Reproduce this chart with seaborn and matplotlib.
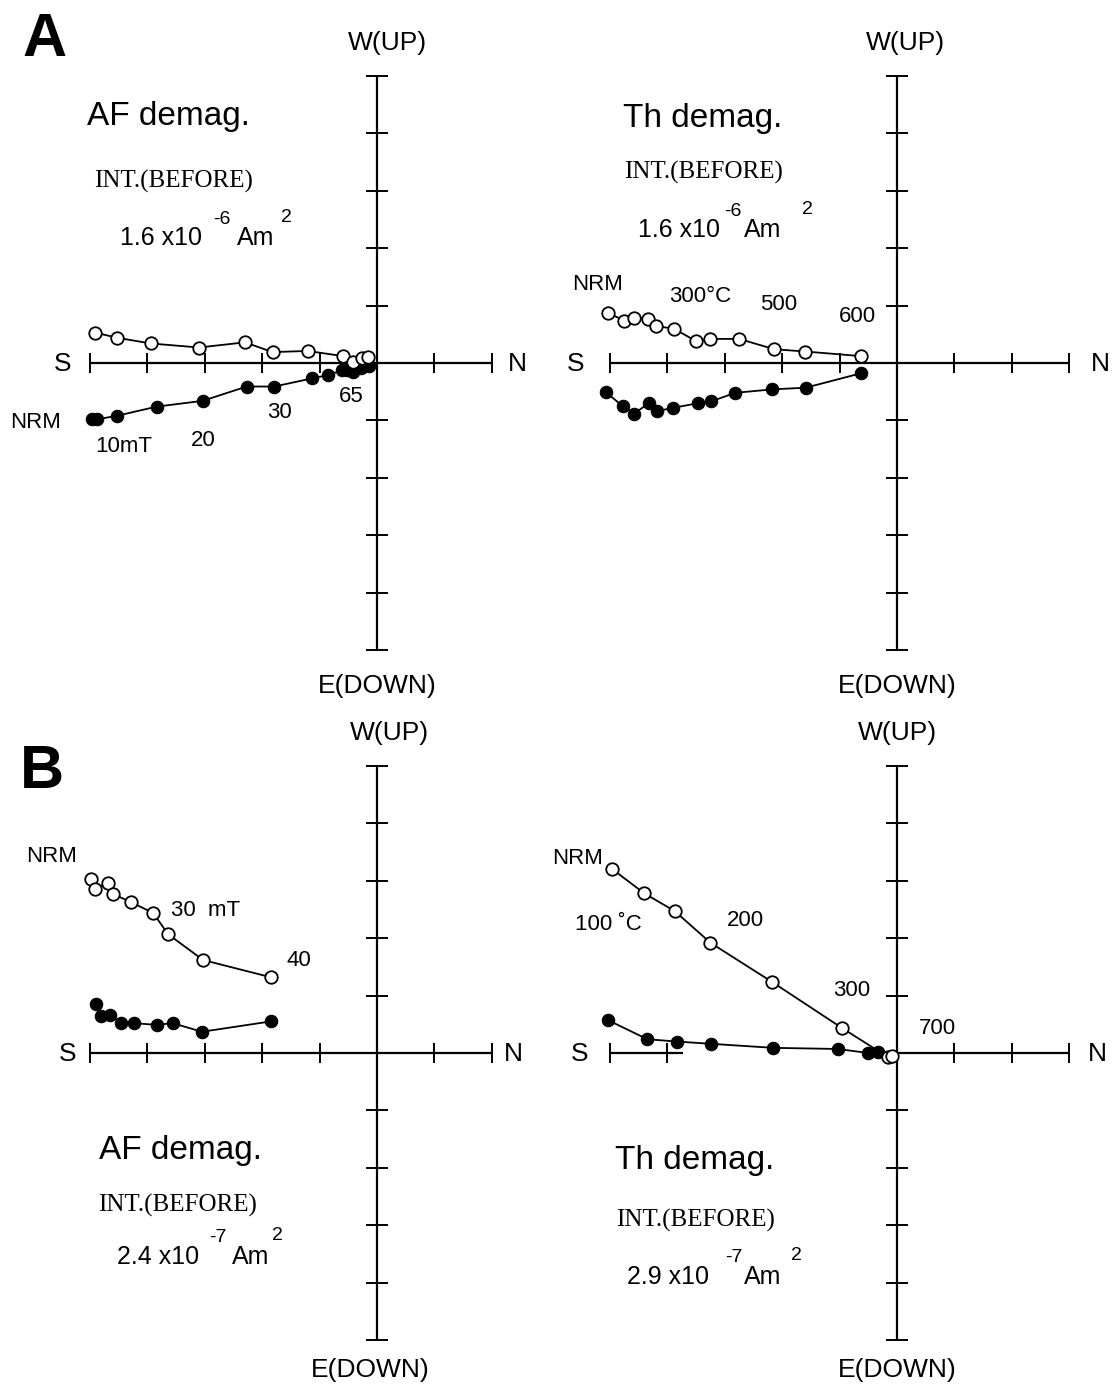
import numpy as np
import matplotlib
matplotlib.use('Agg')
import matplotlib.pyplot as plt
import seaborn as sns

sns.set_style('white')
plt.rcParams['font.family'] = ['Liberation Sans', 'DejaVu Sans']
plt.rcParams['text.color'] = 'black'

W, H = 1114, 1387
S = 57.4  # pixels per tick

# data in tick units (origin at cross centre)
a_af_vert_x = [-4.91, -4.53, -3.94, -3.10, -2.30, -1.82, -1.21, -0.59, -0.41, -0.27, -0.16]
a_af_vert_y = [0.53, 0.44, 0.34, 0.27, 0.36, 0.19, 0.21, 0.12, 0.01, 0.08, 0.11]
a_af_horiz_x = [-4.97, -4.87, -4.53, -3.84, -3.04, -2.27, -1.79, -1.14, -0.85, -0.61, -0.53, -0.41, -0.28, -0.14]
a_af_horiz_y = [-0.98, -0.98, -0.92, -0.76, -0.66, -0.41, -0.41, -0.27, -0.21, -0.13, -0.12, -0.15, -0.09, -0.06]

a_th_vert_x = [-5.03, -4.75, -4.58, -4.33, -4.19, -3.89, -3.50, -3.26, -2.75, -2.14, -1.60, -0.63]
a_th_vert_y = [0.87, 0.74, 0.79, 0.76, 0.64, 0.60, 0.38, 0.42, 0.42, 0.24, 0.20, 0.12]
a_th_horiz_x = [-5.07, -4.78, -4.58, -4.32, -4.18, -3.90, -3.46, -3.24, -2.82, -2.18, -1.59, -0.63]
a_th_horiz_y = [-0.51, -0.75, -0.88, -0.70, -0.84, -0.78, -0.70, -0.67, -0.52, -0.46, -0.43, -0.18]

b_af_vert_x = [-4.99, -4.92, -4.69, -4.60, -4.29, -3.90, -3.64, -3.03, -1.85]
b_af_vert_y = [3.03, 2.86, 2.96, 2.77, 2.63, 2.44, 2.07, 1.62, 1.32]
b_af_horiz_x = [-4.90, -4.81, -4.65, -4.46, -4.23, -3.84, -3.56, -3.05, -1.85]
b_af_horiz_y = [0.85, 0.65, 0.66, 0.53, 0.52, 0.49, 0.52, 0.37, 0.55]

b_th_vert_x = [-4.97, -4.40, -3.87, -3.25, -2.18, -0.95, -0.16, -0.09]
b_th_vert_y = [3.21, 2.78, 2.47, 1.92, 1.24, 0.43, -0.07, -0.05]
b_th_horiz_x = [-5.03, -4.35, -3.84, -3.24, -2.16, -1.03, -0.50, -0.33]
b_th_horiz_y = [0.57, 0.24, 0.20, 0.16, 0.09, 0.07, 0.00, 0.02]

fig = plt.figure(figsize=(W / 100, H / 100), dpi=100)
fig.patch.set_facecolor('white')


def panel(ox, oy, xmax, hsegs):
    ax = fig.add_axes([(ox - 6.5 * S) / W, 1 - (oy + 6 * S) / H, 10 * S / W, 12 * S / H])
    ax.set_xlim(-6.5, 3.5)
    ax.set_ylim(-6, 6)
    ax.set_axis_off()
    ax.patch.set_alpha(0)
    for a, b in hsegs:
        ax.plot([a, b], [0, 0], color='black', lw=1.6, solid_capstyle='butt')
    ax.plot([0, 0], [-5, 5], color='black', lw=1.6, solid_capstyle='butt')
    tx = [t for t in range(-5, xmax + 1) if t != 0 and any(a - 0.01 <= t <= b + 0.01 for a, b in hsegs)]
    ax.vlines(tx, -0.18, 0.18, color='black', lw=1.4)
    ty = [t for t in range(-5, 6) if t != 0]
    ax.hlines(ty, -0.2, 0.2, color='black', lw=1.4)
    return ax


def zplot(ax, hx, hy, vx, vy):
    sns.lineplot(x=hx, y=hy, sort=False, estimator=None, ax=ax, color='black', lw=1.3,
                 marker='o', markersize=9, markerfacecolor='black', markeredgecolor='black', zorder=3)
    sns.lineplot(x=vx, y=vy, sort=False, estimator=None, ax=ax, color='black', lw=1.3,
                 marker='o', markersize=9, markerfacecolor='white', markeredgecolor='black',
                 markeredgewidth=1.3, zorder=4)


def ptext(x, y, s, size=14, ha='center', va='center', **kw):
    fig.text(x / W, 1 - y / H, s, fontsize=size, ha=ha, va=va, color='black', **kw)


def intensity(x0, y, base, exp, x_exp, x_am, x_2):
    ptext(x0, y, base, size=18, ha='left')
    ptext(x_exp, y - 19, exp, size=14, ha='left')
    ptext(x_am, y, 'Am', size=18, ha='left')
    ptext(x_2, y - 21, '2', size=14, ha='left')


serif = dict(family=['Liberation Serif', 'DejaVu Serif'])

# panel A, AF
ax1 = panel(377, 363, 2, [(-5, 2)])
zplot(ax1, a_af_horiz_x, a_af_horiz_y, a_af_vert_x, a_af_vert_y)
# panel A, thermal
ax2 = panel(897, 363, 3, [(-5, 3)])
zplot(ax2, a_th_horiz_x, a_th_horiz_y, a_th_vert_x, a_th_vert_y)
# panel B, AF
ax3 = panel(377, 1053, 2, [(-5, 2)])
zplot(ax3, b_af_horiz_x, b_af_horiz_y, b_af_vert_x, b_af_vert_y)
# panel B, thermal (axis interrupted on the S side)
ax4 = panel(897, 1053, 3, [(-5, -3.73), (0, 3)])
zplot(ax4, b_th_horiz_x, b_th_horiz_y, b_th_vert_x, b_th_vert_y)

ptext(45, 40, 'A', size=44, weight='bold')
ptext(42, 773, 'B', size=44, weight='bold')

# axis labels
for (ox, oy), sx, nx, wx, ex in [((377, 363), 63, 517, 387, 377), ((897, 363), 576, 1100, 905, 897),
                                  ((377, 1053), 68, 513, 389, 370), ((897, 1053), 580, 1097, 897, 897)]:
    ptext(sx, oy + 1, 'S', size=19)
    ptext(nx, oy + 1, 'N', size=19)
    ptext(wx, oy - 320, 'W(UP)', size=19)
    ptext(ex, oy + 323 if oy < 500 else oy + 317, 'E(DOWN)', size=19)

# headers
ptext(168, 117, 'AF demag.', size=24)
ptext(174, 181, 'INT.(BEFORE)', size=18, **serif)
intensity(120, 238, '1.6 x10', '-6', 213, 237, 281)

ptext(703, 118, 'Th demag.', size=24)
ptext(704, 172, 'INT.(BEFORE)', size=18, **serif)
intensity(638, 230, '1.6 x10', '-6', 724, 744, 802)

ptext(180, 1151, 'AF demag.', size=24)
ptext(178, 1205, 'INT.(BEFORE)', size=18, **serif)
intensity(117, 1257, '2.4 x10', '-7', 209, 232, 272)

ptext(695, 1160, 'Th demag.', size=24)
ptext(696, 1220, 'INT.(BEFORE)', size=18, **serif)
intensity(627, 1277, '2.9 x10', '-7', 725, 744, 791)

# step labels
for x, y, s in [(36, 422, 'NRM'), (124, 447, '10mT'), (203, 441, '20'), (279, 412, '30'), (351, 396, '65'),
                (598, 285, 'NRM'), (700, 297, '300°C'), (779, 305, '500'), (857, 316, '600'),
                (52, 857, 'NRM'), (206, 911, '30  mT'), (299, 960, '40'),
                (578, 858, 'NRM'), (608, 924, '100 ˚C'), (745, 921, '200'), (852, 991, '300'), (937, 1028, '700')]:
    ptext(x, y, s, size=16)

fig.savefig('out.png', dpi=100, facecolor='white')
